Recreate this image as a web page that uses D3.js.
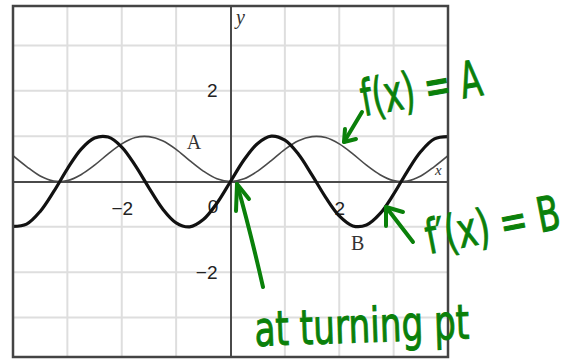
<!DOCTYPE html>
<html>
<head>
<meta charset="utf-8">
<script src="https://cdn.jsdelivr.net/npm/d3@7"></script>
<style>
  body { margin: 0; background: #fff; }
</style>
</head>
<body>
<div id="chart"></div>
<script>
// Sample points (x from -4 to 4)
var xs = [-4, -3.75, -3.5, -3.25, -3, -2.75, -2.5, -2.25, -2, -1.75, -1.5, -1.25, -1, -0.75, -0.5, -0.25,
          0, 0.25, 0.5, 0.75, 1, 1.25, 1.5, 1.75, 2, 2.25, 2.5, 2.75, 3, 3.25, 3.5, 3.75, 4];

// thin curve A
var curveA = [0.57, 0.33, 0.12, 0.01, 0.02, 0.15, 0.36, 0.61, 0.83, 0.97, 0.99, 0.90, 0.71, 0.46, 0.23, 0.06,
              0, 0.06, 0.23, 0.46, 0.71, 0.90, 0.99, 0.97, 0.83, 0.61, 0.36, 0.15, 0.02, 0.01, 0.12, 0.33, 0.57];

// thick curve B
var curveB = [-0.99, -0.94, -0.66, -0.22, 0.28, 0.71, 0.96, 0.98, 0.76, 0.35, -0.14, -0.60, -0.91, -1.00, -0.84, -0.48,
              0, 0.48, 0.84, 1.00, 0.91, 0.60, 0.14, -0.35, -0.76, -0.98, -0.96, -0.71, -0.28, 0.22, 0.66, 0.94, 0.99];

var xTickLabels = [-2, 0, 2];
var yTickLabels = [-2, 2];
var gridX = [-3, -2, -1, 1, 2, 3];
var gridY = [-3, -2, -1, 1, 2, 3];

var width = 587, height = 360;
var plot = {left: 13, right: 448, top: 6, bottom: 357};
var green = "#0a800a";

var svg = d3.select("#chart").append("svg")
    .attr("width", width)
    .attr("height", height);

var x = d3.scaleLinear().domain([-4, 4]).range([plot.left, plot.right]);
var y = d3.scaleLinear().domain([-3.87, 3.87]).range([plot.bottom, plot.top]);

// Grid
svg.append("g").selectAll("line")
    .data(gridX)
    .enter().append("line")
    .attr("x1", function(d) { return x(d); })
    .attr("x2", function(d) { return x(d); })
    .attr("y1", plot.top)
    .attr("y2", plot.bottom)
    .attr("stroke", "#dedede")
    .attr("stroke-width", 2);

svg.append("g").selectAll("line")
    .data(gridY)
    .enter().append("line")
    .attr("y1", function(d) { return y(d); })
    .attr("y2", function(d) { return y(d); })
    .attr("x1", plot.left)
    .attr("x2", plot.right)
    .attr("stroke", "#dedede")
    .attr("stroke-width", 2);

// Axes through the origin
var xAxis = svg.append("g")
    .attr("transform", "translate(0," + y(0) + ")")
    .call(d3.axisBottom(x).tickValues(xTickLabels).tickSize(0).tickPadding(20));

var yAxis = svg.append("g")
    .attr("transform", "translate(" + x(0) + ",0)")
    .call(d3.axisLeft(y).tickValues(yTickLabels).tickSize(0).tickPadding(13));

[xAxis, yAxis].forEach(function(g) {
    g.select(".domain").attr("stroke", "#4a4a4a").attr("stroke-width", 2);
    g.selectAll("text")
        .attr("fill", "#222")
        .style("font-family", "'Liberation Sans', Arial, sans-serif")
        .style("font-size", "19px");
});

// origin label sits left of the y axis
xAxis.selectAll(".tick text")
    .filter(function(d) { return d === 0; })
    .attr("dx", -18)
    .attr("dy", "0.58em");

// Curves
svg.append("clipPath").attr("id", "plotClip")
    .append("rect")
    .attr("x", plot.left).attr("y", plot.top)
    .attr("width", plot.right - plot.left).attr("height", plot.bottom - plot.top);

var line = d3.line()
    .x(function(d) { return x(d[0]); })
    .y(function(d) { return y(d[1]); })
    .curve(d3.curveCatmullRom);

svg.append("path")
    .datum(d3.zip(xs, curveA))
    .attr("clip-path", "url(#plotClip)")
    .attr("fill", "none")
    .attr("stroke", "#4a4a4a")
    .attr("stroke-width", 1.6)
    .attr("d", line);

svg.append("path")
    .datum(d3.zip(xs, curveB))
    .attr("clip-path", "url(#plotClip)")
    .attr("fill", "none")
    .attr("stroke", "#111")
    .attr("stroke-width", 3.2)
    .attr("d", line);

// Frame
svg.append("rect")
    .attr("x", plot.left).attr("y", plot.top)
    .attr("width", plot.right - plot.left).attr("height", plot.bottom - plot.top)
    .attr("fill", "none")
    .attr("stroke", "#444")
    .attr("stroke-width", 2.5);

// Curve and axis names
var serif = "'Liberation Serif', 'Times New Roman', serif";
svg.append("text").attr("x", x(-0.67)).attr("y", y(0.72))
    .attr("text-anchor", "middle").style("font-family", serif).style("font-size", "20px")
    .attr("fill", "#333").text("A");
svg.append("text").attr("x", x(2.34)).attr("y", y(-1.5))
    .attr("text-anchor", "middle").style("font-family", serif).style("font-size", "20px")
    .attr("fill", "#333").text("B");
svg.append("text").attr("x", x(0) + 10).attr("y", plot.top + 18)
    .attr("text-anchor", "middle").style("font-family", serif).style("font-style", "italic")
    .style("font-size", "20px").attr("fill", "#333").text("y");
svg.append("text").attr("x", x(3.82)).attr("y", y(0) - 7)
    .attr("text-anchor", "middle").style("font-family", serif).style("font-style", "italic")
    .style("font-size", "15px").attr("fill", "#333").text("x");

// Handwritten green notes
var notes = svg.append("g")
    .attr("fill", green)
    .style("font-family", "'DejaVu Sans', sans-serif");

// squeeze each note horizontally to the width it has in the picture
function note(tx, ty, angle, size, len, str) {
    var t = notes.append("text")
        .style("font-size", size + "px")
        .attr("stroke", green)
        .attr("stroke-width", 1)
        .text(str);
    var w = t.node().getComputedTextLength();
    t.attr("transform", "translate(" + tx + "," + ty + ") rotate(" + angle + ") scale(" + (len / w) + ",1)");
}

note(364, 116, -10, 50, 122, "f(x) = A");
note(429, 254, -11, 48, 136, "f\u2032(x) = B");
note(255, 346, -2, 48, 215, "at turning pt");

function arrow(pathD, head) {
    notes.append("path")
        .attr("d", pathD)
        .attr("fill", "none")
        .attr("stroke", green)
        .attr("stroke-width", 4)
        .attr("stroke-linecap", "round");
    notes.append("path")
        .attr("d", head)
        .attr("fill", "none")
        .attr("stroke", green)
        .attr("stroke-width", 4)
        .attr("stroke-linecap", "round")
        .attr("stroke-linejoin", "round");
}

arrow("M362,112 L344,142", "M345,129 L344,142 L356,139");
arrow("M413,242 L386,207", "M403,212 L386,207 L386,226");
arrow("M263,287 Q250,230 237,184", "M236,211 L237,184 L249,199");
</script>
</body>
</html>
